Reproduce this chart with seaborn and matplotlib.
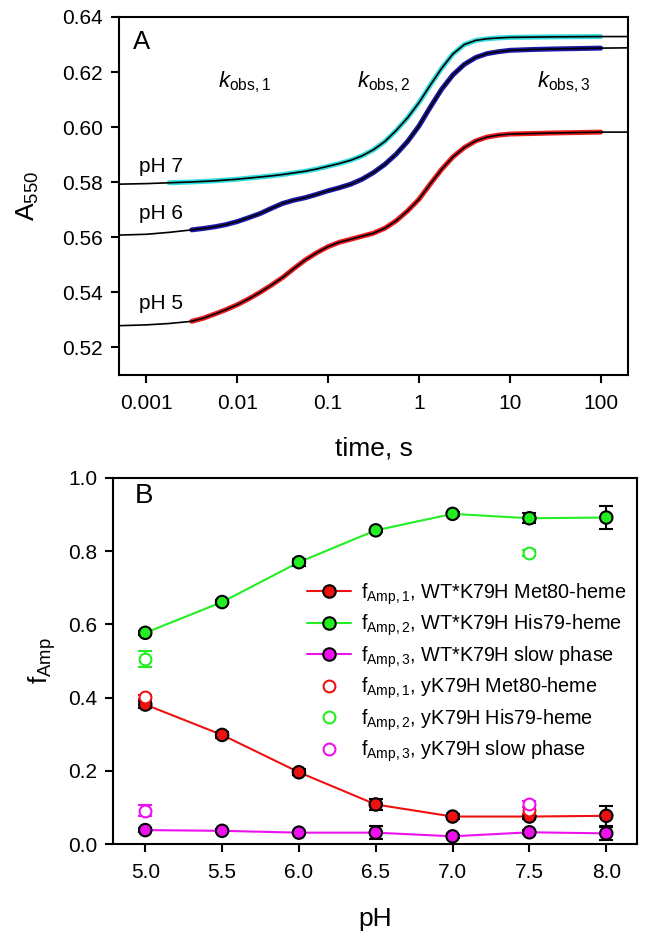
import numpy as np
import pandas as pd
import matplotlib
matplotlib.use("Agg")
import matplotlib.pyplot as plt
import seaborn as sns
from matplotlib.lines import Line2D
from matplotlib.ticker import FixedLocator, FormatStrFormatter, NullLocator

# ---------------- data: panel A ----------------
time_s = [0.0005, 0.001, 0.00178, 0.00316, 0.00422, 0.00562, 0.0075, 0.01, 0.0133,
          0.0178, 0.0237, 0.0316, 0.0422, 0.0562, 0.075, 0.1, 0.133, 0.178, 0.237,
          0.316, 0.422, 0.562, 0.75, 1.0, 1.33, 1.78, 2.37, 3.16, 4.22, 5.62, 7.5,
          10.0, 17.8, 31.6, 100.0, 200.0]
a550_ph5 = [0.5279, 0.5282, 0.5287, 0.5295, 0.5306, 0.5321, 0.5337, 0.5355, 0.5376,
            0.5400, 0.5426, 0.5454, 0.5487, 0.5518, 0.5544, 0.5566, 0.5582, 0.5593, 0.5604,
            0.5615, 0.5633, 0.5660, 0.5696, 0.5738, 0.5793, 0.5847, 0.5892, 0.5926, 0.5950,
            0.5964, 0.5971, 0.5975, 0.5977, 0.5979, 0.5982, 0.5982]
a550_ph6 = [0.5608, 0.5611, 0.5618, 0.5627, 0.5632, 0.5638, 0.5646, 0.5657, 0.5671,
            0.5686, 0.5705, 0.5723, 0.5735, 0.5744, 0.5756, 0.5769, 0.5780, 0.5793, 0.5811,
            0.5835, 0.5865, 0.5902, 0.5948, 0.6004, 0.6072, 0.6138, 0.6190, 0.6228, 0.6253,
            0.6267, 0.6274, 0.6279, 0.6282, 0.6284, 0.6287, 0.6288]
a550_ph7 = [0.5793, 0.5795, 0.5798, 0.5801, 0.5803, 0.5805, 0.5808, 0.5811, 0.5815,
            0.5819, 0.5823, 0.5828, 0.5834, 0.5840, 0.5848, 0.5858, 0.5868, 0.5880, 0.5896,
            0.5918, 0.5948, 0.5988, 0.6034, 0.6089, 0.6152, 0.6214, 0.6266, 0.6300, 0.6315,
            0.6321, 0.6324, 0.6326, 0.6327, 0.6328, 0.6329, 0.6329]
data_start = {"pH 5": 0.003, "pH 6": 0.003, "pH 7": 0.0017}
data_end = {"pH 5": 100.0, "pH 6": 100.0, "pH 7": 100.0}
trace_colors = {"pH 5": "#ee1c1c", "pH 6": "#1a1aa6", "pH 7": "#33dddd"}
ph_label_y = {"pH 7": 0.5857, "pH 6": 0.5688, "pH 5": 0.5361}

# ---------------- data: panel B ----------------
ph = [5.0, 5.5, 6.0, 6.5, 7.0, 7.5, 8.0]
f_amp1 = [0.381, 0.298, 0.196, 0.108, 0.075, 0.075, 0.077]
f_amp1_err = [0.010, 0.008, 0.008, 0.016, 0.006, 0.008, 0.028]
f_amp2 = [0.577, 0.661, 0.770, 0.857, 0.902, 0.890, 0.892]
f_amp2_err = [0.006, 0.006, 0.010, 0.005, 0.006, 0.014, 0.032]
f_amp3 = [0.038, 0.036, 0.031, 0.031, 0.021, 0.032, 0.029]
f_amp3_err = [0.005, 0.004, 0.004, 0.017, 0.004, 0.005, 0.018]

ph_y = [5.0, 7.5]
y_amp1 = [0.401, 0.092]
y_amp1_err = [0.006, 0.010]
y_amp2 = [0.506, 0.795]
y_amp2_err = [0.022, 0.008]
y_amp3 = [0.091, 0.110]
y_amp3_err = [0.015, 0.008]

legend_labels = [
    r"f$_{\mathrm{Amp,1}}$, WT*K79H Met80-heme",
    r"f$_{\mathrm{Amp,2}}$, WT*K79H His79-heme",
    r"f$_{\mathrm{Amp,3}}$, WT*K79H slow phase",
    r"f$_{\mathrm{Amp,1}}$, yK79H Met80-heme",
    r"f$_{\mathrm{Amp,2}}$, yK79H His79-heme",
    r"f$_{\mathrm{Amp,3}}$, yK79H slow phase",
]
RED, GREEN, MAG = "#ee1111", "#22ee22", "#ee11ee"

# ---------------- style ----------------
sns.set_style("ticks")
plt.rcParams["font.family"] = ["Liberation Sans", "DejaVu Sans"]
plt.rcParams["mathtext.fontset"] = "custom"
plt.rcParams["mathtext.rm"] = "Liberation Sans"
plt.rcParams["mathtext.it"] = "Liberation Sans:italic"
plt.rcParams["mathtext.bf"] = "Liberation Sans:bold"
plt.rcParams["text.color"] = "black"
plt.rcParams["axes.labelcolor"] = "black"

fig = plt.figure(figsize=(6.49, 9.44), dpi=100)
W, H = 649, 944
axA = fig.add_axes([119 / W, 1 - 375 / H, (628 - 119) / W, (375 - 17) / H])
axB = fig.add_axes([113 / W, 1 - 844 / H, (637 - 113) / W, (844 - 478) / H])

# ---------------- panel A ----------------
curves = {"pH 5": a550_ph5, "pH 6": a550_ph6, "pH 7": a550_ph7}
rows = []
for name, vals in curves.items():
    for t, v in zip(time_s, vals):
        rows.append({"t": t, "A": v, "pH": name})
dfA = pd.DataFrame(rows)

for name in curves:
    sub = dfA[(dfA.pH == name) & (dfA.t >= data_start[name]) & (dfA.t <= data_end[name])]
    sns.lineplot(data=sub, x="t", y="A", color=trace_colors[name], lw=3.6,
                 estimator=None, sort=False, ax=axA)
for name in curves:
    sub = dfA[dfA.pH == name]
    sns.lineplot(data=sub, x="t", y="A", color="black", lw=1.2,
                 estimator=None, sort=False, ax=axA)

axA.set_xscale("log")
axA.set_xlim(0.0005, 200)
axA.set_ylim(0.51, 0.64)
axA.xaxis.set_major_locator(FixedLocator([0.001, 0.01, 0.1, 1, 10, 100]))
axA.xaxis.set_minor_locator(NullLocator())
axA.set_xticklabels(["0.001", "0.01", "0.1", "1", "10", "100"])
axA.yaxis.set_major_locator(FixedLocator(np.arange(0.52, 0.641, 0.02)))
axA.yaxis.set_major_formatter(FormatStrFormatter("%.2f"))
axA.set_xlabel("time, s", fontsize=19, labelpad=17)
axA.set_ylabel(r"A$_{550}$", fontsize=19, labelpad=15)

axA.text(0.028, 0.963, "A", transform=axA.transAxes, fontsize=18.5, va="top", ha="left")
for name, yv in ph_label_y.items():
    axA.text(0.00084, yv, name, fontsize=15, va="center", ha="left")
axA.text(0.0119, 0.6143, r"$k_{\mathrm{obs,1}}$", fontsize=16, va="baseline", ha="center")
axA.text(0.405, 0.6143, r"$k_{\mathrm{obs,2}}$", fontsize=16, va="baseline", ha="center")
axA.text(39, 0.6143, r"$k_{\mathrm{obs,3}}$", fontsize=16, va="baseline", ha="center")

# ---------------- panel B ----------------
dfB = pd.DataFrame({"pH": ph * 3,
                    "f": f_amp1 + f_amp2 + f_amp3,
                    "series": ["1"] * 7 + ["2"] * 7 + ["3"] * 7})
pal = {"1": RED, "2": GREEN, "3": MAG}
sns.lineplot(data=dfB, x="pH", y="f", hue="series", palette=pal, lw=1.5,
             estimator=None, sort=False, legend=False, ax=axB, zorder=2)
for vals, errs in [(f_amp1, f_amp1_err), (f_amp2, f_amp2_err), (f_amp3, f_amp3_err)]:
    axB.errorbar(ph, vals, yerr=errs, fmt="none", ecolor="black", elinewidth=1.5,
                 capsize=5, capthick=1.5, zorder=3)
sns.scatterplot(data=dfB, x="pH", y="f", hue="series", palette=pal, s=80,
                edgecolor="black", linewidth=1.5, legend=False, ax=axB, zorder=4)

for vals, errs, c in [(y_amp1, y_amp1_err, RED), (y_amp2, y_amp2_err, GREEN), (y_amp3, y_amp3_err, MAG)]:
    axB.errorbar(ph_y, vals, yerr=errs, fmt="none", ecolor=c, elinewidth=1.5,
                 capsize=5, capthick=1.5, zorder=5)
    axB.plot(ph_y, vals, ls="none", marker="o", ms=8.5, mfc="white", mec=c, mew=1.5, zorder=6)

axB.set_xlim(4.79, 8.2)
axB.set_ylim(0.0, 1.0)
axB.xaxis.set_major_locator(FixedLocator(ph))
axB.xaxis.set_major_formatter(FormatStrFormatter("%.1f"))
axB.yaxis.set_major_locator(FixedLocator(np.arange(0.0, 1.01, 0.2)))
axB.yaxis.set_major_formatter(FormatStrFormatter("%.1f"))
axB.set_xlabel("pH", fontsize=19, labelpad=18)
axB.set_ylabel(r"f$_{\mathrm{Amp}}$", fontsize=19, labelpad=7)
axB.text(0.042, 0.987, "B", transform=axB.transAxes, fontsize=20, va="top", ha="left")

handles = [
    Line2D([], [], color=RED, lw=1.5, marker="o", ms=9, mfc=RED, mec="black", mew=1.5),
    Line2D([], [], color=GREEN, lw=1.5, marker="o", ms=9, mfc=GREEN, mec="black", mew=1.5),
    Line2D([], [], color=MAG, lw=1.5, marker="o", ms=9, mfc=MAG, mec="black", mew=1.5),
    Line2D([], [], ls="none", marker="o", ms=8.5, mfc="white", mec=RED, mew=1.5),
    Line2D([], [], ls="none", marker="o", ms=8.5, mfc="white", mec=GREEN, mew=1.5),
    Line2D([], [], ls="none", marker="o", ms=8.5, mfc="white", mec=MAG, mew=1.5),
]
axB.legend(handles, legend_labels, loc="upper left", bbox_to_anchor=(0.37, 0.718),
           frameon=False, fontsize=14.3, handlelength=2.2, handletextpad=0.55,
           labelspacing=0.3, borderpad=0, borderaxespad=0)

for ax in (axA, axB):
    for sp in ax.spines.values():
        sp.set_linewidth(1.5)
        sp.set_color("black")
    ax.tick_params(axis="both", which="major", direction="out", length=5.5, width=1.5,
                   labelsize=15, colors="black")
    ax.tick_params(axis="x", pad=8)
    ax.tick_params(axis="y", pad=6)

fig.savefig("out.png", dpi=100)
